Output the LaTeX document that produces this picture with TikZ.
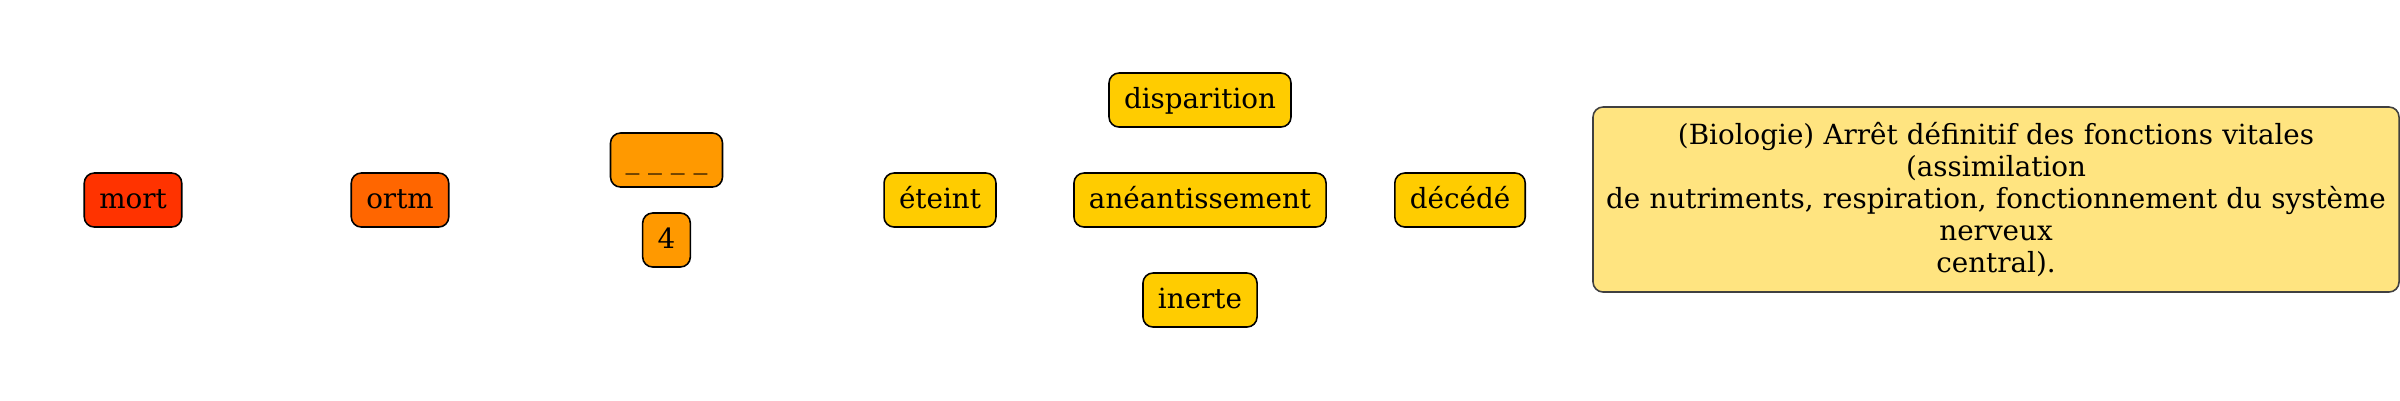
\documentclass[tikz,border=0pt]{standalone}
\usepackage{fontspec}
\setmainfont{DejaVu Serif}
\usepackage{xcolor}

\definecolor{redword}{HTML}{FF3300}
\definecolor{orangeword}{HTML}{FF6600}
\definecolor{ambreword}{HTML}{FF9900}
\definecolor{yellowword}{HTML}{FFCC00}
\definecolor{defword}{HTML}{FFE480}

\begin{document}
\begin{tikzpicture}[
    font=\fontsize{7.9}{9.1}\selectfont,
    boxed/.style={line width=0.45pt, rounded corners=0.1cm},
    word/.style={boxed, draw=black, minimum height=0.54cm, inner xsep=0.15cm,
        inner ysep=0pt, text height=0.22cm, text depth=0.06cm},
    defbox/.style={boxed, draw=black!75, minimum height=1.85cm, inner ysep=0pt,
        text width=7.95cm, inner xsep=0.055cm, align=center}
]

    % Frame of the picture
    \useasboundingbox (0,0) rectangle (24,-4);

    % Word and its anagram
    \node[word, fill=redword]    (mort) at (1.33,-2) {mort};
    \node[word, fill=orangeword] (ortm) at (4.00,-2) {ortm};

    % Blank and letter count
    \node[word, fill=ambreword] (blank) at (6.665,-1.6) {\_ \_ \_ \_};
    \node[word, fill=ambreword] (count) at (6.665,-2.4) {4};

    % Related words
    \node[word, fill=yellowword] (eteint)      at (9.40,-2) {éteint};
    \node[word, fill=yellowword] (disparition) at (12.0,-1) {disparition};
    \node[word, fill=yellowword] (aneant)      at (12.0,-2) {anéantissement};
    \node[word, fill=yellowword] (inerte)      at (12.0,-3) {inerte};
    \node[word, fill=yellowword] (decede)      at (14.6,-2) {décédé};

    % Definition
    \node[defbox, fill=defword] (definition) at (19.96,-1.995)
        {(Biologie) Arrêt définitif des fonctions vitales\\(assimilation\\de nutriments, respiration, fonctionnement du système\\nerveux\\central).};

\end{tikzpicture}
\end{document}
